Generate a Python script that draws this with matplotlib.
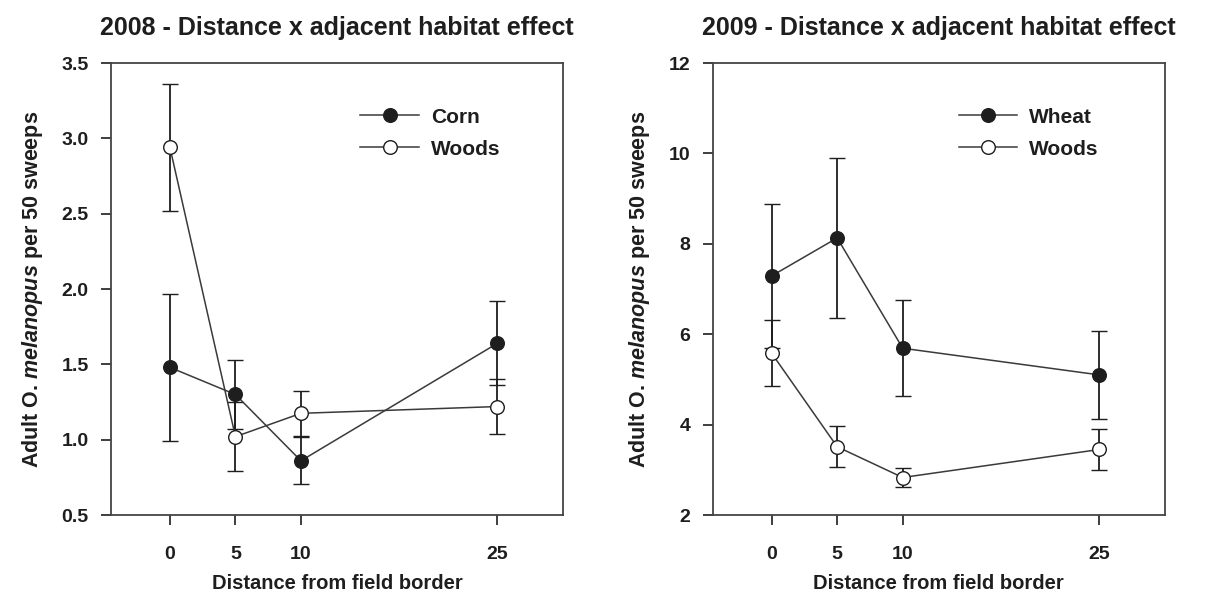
import matplotlib
matplotlib.use('Agg')
import matplotlib.pyplot as plt
from matplotlib.ticker import FormatStrFormatter

plt.rcParams['font.family'] = ['Liberation Sans', 'DejaVu Sans']
plt.rcParams['font.weight'] = 'bold'
plt.rcParams['mathtext.fontset'] = 'custom'
plt.rcParams['mathtext.it'] = 'Liberation Sans:italic:bold'
plt.rcParams['mathtext.rm'] = 'Liberation Sans:bold'

distance = [0, 5, 10, 25]

# 2008
corn_2008 = [1.48, 1.30, 0.86, 1.64]
corn_2008_se = [0.49, 0.23, 0.155, 0.28]
woods_2008 = [2.94, 1.02, 1.175, 1.22]
woods_2008_se = [0.42, 0.23, 0.15, 0.18]

# 2009
wheat_2009 = [7.29, 8.13, 5.69, 5.10]
wheat_2009_se = [1.60, 1.77, 1.06, 0.98]
woods_2009 = [5.58, 3.51, 2.83, 3.45]
woods_2009_se = [0.73, 0.45, 0.22, 0.45]

ink = '#1e1e1e'
line_col = '#3a3a3a'

fig = plt.figure(figsize=(12.18, 5.93), dpi=100)
ax1 = fig.add_axes([0.0911, 0.1315, 0.3711, 0.7622])
ax2 = fig.add_axes([0.5851, 0.1315, 0.3713, 0.7622])

ylabel = r'Adult O. $\mathit{melanopus}$ per 50 sweeps'


def panel(ax, title, s1, e1, lab1, s2, e2, lab2, ylim, yticks, fmt, leg_x):
    ax.errorbar(distance, s1, yerr=e1, fmt='o-', color=line_col, lw=1.1,
                ecolor=ink, elinewidth=1.3, capsize=5.5, capthick=1.3,
                markersize=9.8, markerfacecolor=ink, markeredgecolor=ink,
                markeredgewidth=1, label=lab1, zorder=3)
    ax.errorbar(distance, s2, yerr=e2, fmt='o-', color=line_col, lw=1.1,
                ecolor=ink, elinewidth=1.3, capsize=5.5, capthick=1.3,
                markersize=9.8, markerfacecolor='white', markeredgecolor=ink,
                markeredgewidth=1, label=lab2, zorder=3)
    ax.set_xlim(-4.5, 30)
    ax.set_ylim(*ylim)
    ax.set_xticks(distance)
    ax.set_yticks(yticks)
    ax.yaxis.set_major_formatter(FormatStrFormatter(fmt))
    ax.tick_params(axis='y', direction='out', length=7, width=1.2,
                   labelsize=14, pad=9, colors=ink)
    ax.tick_params(axis='x', direction='out', length=7, width=1.2,
                   labelsize=14, pad=15, colors=ink)
    for sp in ax.spines.values():
        sp.set_linewidth(1.3)
        sp.set_color('#444444')
    ax.set_xlabel('Distance from field border', fontsize=14.5,
                  fontweight='bold', color=ink, labelpad=8)
    ax.set_ylabel(ylabel, fontsize=15.5, fontweight='bold', color=ink,
                  labelpad=12)
    ax.set_title(title, fontsize=18, fontweight='bold', color=ink, pad=20)
    handles, labels = ax.get_legend_handles_labels()
    handles = [h[0] for h in handles]
    leg = ax.legend(handles, labels, loc='upper left',
                    bbox_to_anchor=(leg_x, 0.938), frameon=False,
                    fontsize=15, handlelength=2.8, handletextpad=0.6,
                    labelspacing=0.62, borderpad=0.3)
    for t in leg.get_texts():
        t.set_color(ink)


panel(ax1, '2008 - Distance x adjacent habitat effect',
      corn_2008, corn_2008_se, 'Corn', woods_2008, woods_2008_se, 'Woods',
      (0.5, 3.5), [0.5, 1.0, 1.5, 2.0, 2.5, 3.0, 3.5], '%.1f', 0.515)
panel(ax2, '2009 - Distance x adjacent habitat effect',
      wheat_2009, wheat_2009_se, 'Wheat', woods_2009, woods_2009_se, 'Woods',
      (2, 12), [2, 4, 6, 8, 10, 12], '%d', 0.507)

fig.savefig('out.png', dpi=100, facecolor='white')
